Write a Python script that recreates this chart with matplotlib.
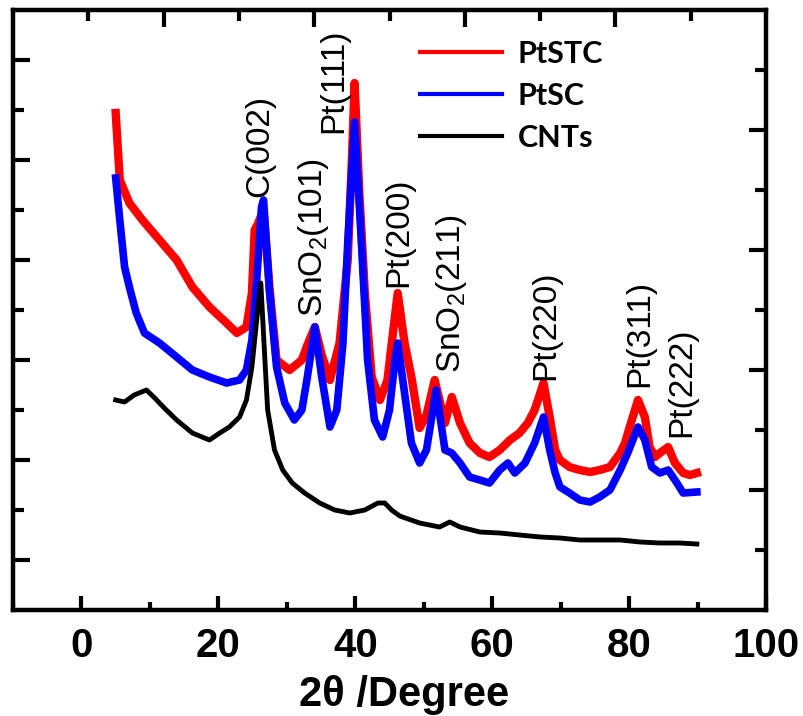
import matplotlib
matplotlib.use("Agg")
import matplotlib.pyplot as plt
from matplotlib.ticker import MultipleLocator, FixedLocator

plt.rcParams['font.family'] = ['Liberation Sans', 'DejaVu Sans']
plt.rcParams['mathtext.fontset'] = 'custom'
plt.rcParams['mathtext.rm'] = 'Liberation Sans'
plt.rcParams['mathtext.default'] = 'rm'

# XRD patterns (2theta in degrees, intensity in arbitrary units)
ptstc_x = [5.0, 5.6, 7.0, 8.9, 11.4, 13.9, 16.2, 18.7, 21.2, 22.7, 24.1, 24.9, 25.3, 25.7,
           26.6, 27.5, 28.5, 30.4, 32.2, 33.0, 34.1, 35.1, 36.3, 37.7, 38.9, 39.5, 39.9,
           40.6, 41.4, 42.4, 43.6, 44.7, 45.5, 46.2, 47.2, 48.2, 49.4, 50.4, 51.6, 53.1,
           54.1, 55.3, 56.7, 58.2, 59.6, 61.1, 62.6, 64.0, 65.2, 66.2, 67.5, 68.4, 69.2,
           69.9, 71.3, 72.8, 74.3, 75.7, 77.2, 78.7, 79.4, 80.4, 81.3, 82.3, 83.0, 83.8,
           84.5, 85.7, 86.7, 87.9, 88.9, 89.9]
ptstc_y = [9.94, 8.6, 8.14, 7.8, 7.4, 7.0, 6.46, 6.06, 5.74, 5.54, 5.66, 6.34, 7.6, 7.7,
           8.0, 6.4, 5.0, 4.8, 5.0, 5.3, 5.66, 5.1, 4.6, 5.34, 7.0, 9.0, 10.54,
           8.34, 6.34, 4.66, 4.2, 4.6, 5.54, 6.34, 5.34, 4.66, 3.64, 3.9, 4.6, 3.74,
           4.26, 3.74, 3.34, 3.14, 3.06, 3.2, 3.4, 3.54, 3.74, 4.0, 4.54, 3.86, 3.2,
           3.0, 2.86, 2.8, 2.76, 2.8, 2.86, 3.14, 3.34, 3.8, 4.2, 3.86, 3.26, 3.06,
           3.14, 3.26, 2.94, 2.74, 2.7, 2.74]

ptsc_x = [5.0, 5.6, 6.3, 7.0, 8.0, 9.2, 11.4, 13.9, 16.2, 18.7, 21.2, 23.1, 24.1, 24.9,
          25.6, 26.3, 26.6, 27.5, 28.5, 29.7, 31.1, 32.2, 33.0, 34.1, 35.1, 36.3, 37.3,
          38.2, 38.9, 39.9, 40.9, 41.8, 42.8, 44.0, 45.0, 45.8, 46.2, 47.2, 48.2, 49.4,
          50.4, 51.8, 53.1, 54.1, 55.3, 56.7, 58.2, 59.6, 61.1, 62.3, 63.3, 64.8, 66.2,
          67.5, 68.4, 69.2, 69.9, 71.3, 72.8, 74.3, 75.7, 77.2, 78.7, 79.8, 81.3, 82.3,
          83.3, 84.5, 85.7, 86.7, 87.9, 89.9]
ptsc_y = [8.64, 7.8, 6.86, 6.46, 5.94, 5.54, 5.34, 5.06, 4.8, 4.66, 4.54, 4.6, 4.8, 5.4,
          6.6, 8.06, 8.2, 6.34, 4.86, 4.14, 3.8, 4.0, 4.66, 5.66, 4.66, 3.66, 4.0,
          5.34, 7.34, 9.76, 7.34, 5.0, 3.8, 3.46, 4.0, 5.0, 5.34, 4.34, 3.34, 2.94,
          3.2, 4.4, 3.2, 3.14, 2.94, 2.66, 2.6, 2.54, 2.8, 2.94, 2.74, 2.94, 3.34,
          3.86, 3.2, 2.74, 2.46, 2.34, 2.2, 2.16, 2.26, 2.4, 2.8, 3.14, 3.66, 3.4,
          2.86, 2.74, 2.8, 2.6, 2.34, 2.36]

cnt_x = [5.0, 6.3, 7.7, 9.5, 10.7, 12.1, 13.9, 16.2, 18.7, 20.2, 21.6, 23.1, 24.1, 24.9,
         25.6, 26.2, 26.8, 27.2, 28.2, 29.4, 30.8, 32.6, 34.8, 37.0, 39.2, 41.4, 43.3,
         44.3, 45.3, 46.5, 49.4, 52.3, 53.8, 55.3, 58.2, 61.1, 64.0, 67.0, 69.9, 72.8,
         75.7, 78.7, 81.6, 84.5, 87.4, 89.9]
cnt_y = [4.2, 4.16, 4.3, 4.4, 4.24, 4.04, 3.8, 3.54, 3.4, 3.54, 3.66, 3.86, 4.2, 4.86,
         5.8, 6.54, 5.0, 4.0, 3.2, 2.8, 2.54, 2.34, 2.14, 2.0, 1.94, 2.0, 2.14,
         2.14, 2.0, 1.88, 1.74, 1.66, 1.76, 1.66, 1.56, 1.54, 1.5, 1.46, 1.44, 1.4,
         1.4, 1.4, 1.36, 1.34, 1.34, 1.32]

# peak labels and where they sit (x centre, bottom of text)
peak_labels = ['C(002)', 'SnO$_2$(101)', 'Pt(111)', 'Pt(200)', 'SnO$_2$(211)',
               'Pt(220)', 'Pt(311)', 'Pt(222)']
label_x = [26.0, 33.9, 36.8, 46.3, 54.1, 67.8, 81.6, 87.7]
label_y = [8.26, 5.86, 9.54, 6.46, 4.74, 4.6, 4.46, 3.46]

fig = plt.figure(figsize=(8.04, 7.16), dpi=100)
ax = fig.add_axes([13 / 804, 106 / 716, 753 / 804, 600 / 716])

ax.plot(ptstc_x, ptstc_y, color='#ff0000', lw=6, label='PtSTC')
ax.plot(ptsc_x, ptsc_y, color='#0000ff', lw=5.5, label='PtSC')
ax.plot(cnt_x, cnt_y, color='black', lw=3.5, label='CNTs')

for txt, lx, ly in zip(peak_labels, label_x, label_y):
    ax.text(lx, ly, txt, rotation=90, ha='center', va='bottom', fontsize=24)

ax.set_xlim(-10, 100)
ax.set_ylim(0, 12)
ax.xaxis.set_major_locator(MultipleLocator(20))
ax.xaxis.set_minor_locator(MultipleLocator(10))
ax.yaxis.set_major_locator(FixedLocator([1, 3, 5, 7, 9, 11]))
ax.yaxis.set_minor_locator(FixedLocator([2, 4, 6, 8, 10]))
ax.tick_params(axis='x', which='both', direction='in', width=3, pad=12,
               labelsize=29)
ax.tick_params(axis='x', which='major', length=10)
ax.tick_params(axis='x', which='minor', length=6)
ax.tick_params(axis='y', which='both', direction='in', width=3, labelleft=False)
ax.tick_params(axis='y', which='major', length=12)
ax.tick_params(axis='y', which='minor', length=8)
for lab in ax.get_xticklabels():
    lab.set_fontweight('bold')
ax.set_xlabel('2θ /Degree', fontsize=30, fontweight='bold')
ax.xaxis.set_label_coords(0.52, -0.108)

for s in ax.spines.values():
    s.set_linewidth(3)

# top and right axes of the original use their own ten-step scales
ax_top = ax.twiny()
ax_top.set_xlim(0, 10)
ax_top.xaxis.set_major_locator(FixedLocator([2, 4, 6, 8]))
ax_top.xaxis.set_minor_locator(FixedLocator([1, 3, 5, 7, 9]))
ax_top.tick_params(axis='x', which='both', direction='in', width=3, labeltop=False)
ax_top.tick_params(axis='x', which='major', length=12)
ax_top.tick_params(axis='x', which='minor', length=8)

ax_right = ax.twinx()
ax_right.set_ylim(0, 10)
ax_right.yaxis.set_major_locator(FixedLocator([2, 4, 6, 8]))
ax_right.yaxis.set_minor_locator(FixedLocator([1, 3, 5, 7, 9]))
ax_right.tick_params(axis='y', which='both', direction='in', width=3, labelright=False)
ax_right.tick_params(axis='y', which='major', length=12)
ax_right.tick_params(axis='y', which='minor', length=8)
for a in (ax_top, ax_right):
    for s in a.spines.values():
        s.set_linewidth(3)

leg = ax.legend(loc='upper left', bbox_to_anchor=(0.54, 0.95), frameon=False,
                borderpad=0, borderaxespad=0, handlelength=2.7, handletextpad=0.5,
                labelspacing=0.46, prop=dict(family='Lato', weight='bold', size=22))
for h in leg.get_lines():
    h.set_linewidth(3)

fig.savefig('out.png', dpi=100)
